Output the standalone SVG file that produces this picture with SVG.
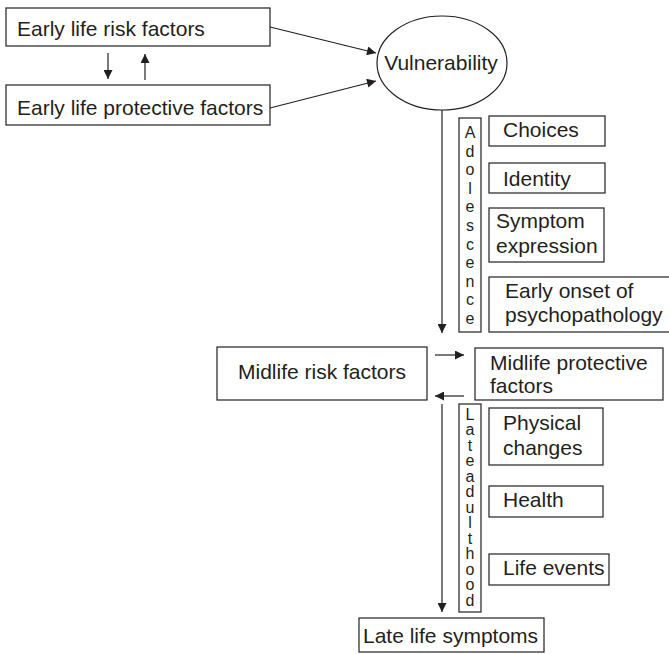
<svg xmlns="http://www.w3.org/2000/svg" width="669" height="654" viewBox="0 0 669 654">
  <style>
    .box { fill: #fff; stroke: #231f20; stroke-width: 1.2; }
    .t { font-family: "Liberation Sans", Arial, sans-serif; font-size: 21px; fill: #231f20; }
    .v { font-family: "Liberation Sans", Arial, sans-serif; font-size: 16px; fill: #231f20; text-anchor: middle; }
    .ln { fill: none; stroke: #231f20; stroke-width: 1.2; marker-end: url(#ah); }
  </style>
  <defs>
    <marker id="ah" viewBox="0 0 10 10" refX="10" refY="5" markerWidth="11" markerHeight="9" markerUnits="userSpaceOnUse" orient="auto">
      <path d="M0,0 L10,5 L0,10 Z" fill="#231f20"/>
    </marker>
  </defs>
  <rect width="669" height="654" fill="#fff"/>

  <!-- connectors -->
  <g id="connectors">
    <line class="ln" x1="108" y1="53" x2="108" y2="79"/>
    <line class="ln" x1="145" y1="80" x2="145" y2="54"/>
    <line class="ln" x1="270" y1="27" x2="376" y2="53"/>
    <line class="ln" x1="270" y1="108" x2="376" y2="81"/>
    <line class="ln" x1="442" y1="110" x2="442" y2="333"/>
    <line class="ln" x1="435" y1="355" x2="464" y2="355"/>
    <line class="ln" x1="464" y1="396" x2="435" y2="396"/>
    <line class="ln" x1="442" y1="404" x2="442" y2="612"/>
  </g>

  <g id="early-risk">
    <rect class="box" x="6" y="8" width="264" height="38"/>
    <text class="t" x="17" y="36">Early life risk factors</text>
  </g>
  <g id="early-protective">
    <rect class="box" x="6" y="85" width="264" height="40"/>
    <text class="t" x="17" y="115">Early life protective factors</text>
  </g>
  <g id="vulnerability">
    <ellipse cx="442" cy="63" rx="65" ry="47" fill="#fff" stroke="#231f20" stroke-width="1.2"/>
    <text class="t" x="441" y="70" text-anchor="middle" font-size="20.5">Vulnerability</text>
  </g>

  <g id="adolescence">
    <rect class="box" x="459" y="118" width="22" height="214"/>
    <text class="v" x="470" y="138">A</text>
    <text class="v" x="470" y="157">d</text>
    <text class="v" x="470" y="175">o</text>
    <text class="v" x="470" y="194">l</text>
    <text class="v" x="470" y="212">e</text>
    <text class="v" x="470" y="231">s</text>
    <text class="v" x="470" y="250">c</text>
    <text class="v" x="470" y="268">e</text>
    <text class="v" x="470" y="287">n</text>
    <text class="v" x="470" y="305">c</text>
    <text class="v" x="470" y="324">e</text>
  </g>
  <g id="choices">
    <rect class="box" x="489" y="116" width="116" height="30"/>
    <text class="t" x="503" y="137">Choices</text>
  </g>
  <g id="identity">
    <rect class="box" x="489" y="163" width="116" height="30"/>
    <text class="t" x="503" y="186">Identity</text>
  </g>
  <g id="symptom-expression">
    <rect class="box" x="489" y="208" width="115" height="54"/>
    <text class="t" x="496" y="228">Symptom</text>
    <text class="t" x="496" y="253">expression</text>
  </g>
  <g id="early-onset">
    <rect class="box" x="489" y="277" width="181" height="55"/>
    <text class="t" x="505" y="298">Early onset of</text>
    <text class="t" x="505" y="322">psychopathology</text>
  </g>

  <g id="midlife-risk">
    <rect class="box" x="217" y="347" width="210" height="53"/>
    <text class="t" x="322" y="379" text-anchor="middle">Midlife risk factors</text>
  </g>
  <g id="midlife-protective">
    <rect class="box" x="475" y="348" width="188" height="52"/>
    <text class="t" x="490" y="370">Midlife protective</text>
    <text class="t" x="490" y="393">factors</text>
  </g>

  <g id="late-adulthood">
    <rect class="box" x="459" y="404" width="22" height="208"/>
    <text class="v" x="470" y="420">L</text>
    <text class="v" x="470" y="435">a</text>
    <text class="v" x="470" y="451">t</text>
    <text class="v" x="470" y="466">e</text>
    <text class="v" x="470" y="482">a</text>
    <text class="v" x="470" y="497">d</text>
    <text class="v" x="470" y="513">u</text>
    <text class="v" x="470" y="528">l</text>
    <text class="v" x="470" y="544">t</text>
    <text class="v" x="470" y="559">h</text>
    <text class="v" x="470" y="575">o</text>
    <text class="v" x="470" y="590">o</text>
    <text class="v" x="470" y="606">d</text>
  </g>
  <g id="physical-changes">
    <rect class="box" x="489" y="408" width="114" height="57"/>
    <text class="t" x="503" y="430">Physical</text>
    <text class="t" x="503" y="455">changes</text>
  </g>
  <g id="health">
    <rect class="box" x="489" y="486" width="114" height="31"/>
    <text class="t" x="503" y="507">Health</text>
  </g>
  <g id="life-events">
    <rect class="box" x="489" y="554" width="120" height="31"/>
    <text class="t" x="503" y="575">Life events</text>
  </g>

  <g id="late-life-symptoms">
    <rect class="box" x="359" y="618" width="185" height="34"/>
    <text class="t" x="363" y="643">Late life symptoms</text>
  </g>
</svg>
